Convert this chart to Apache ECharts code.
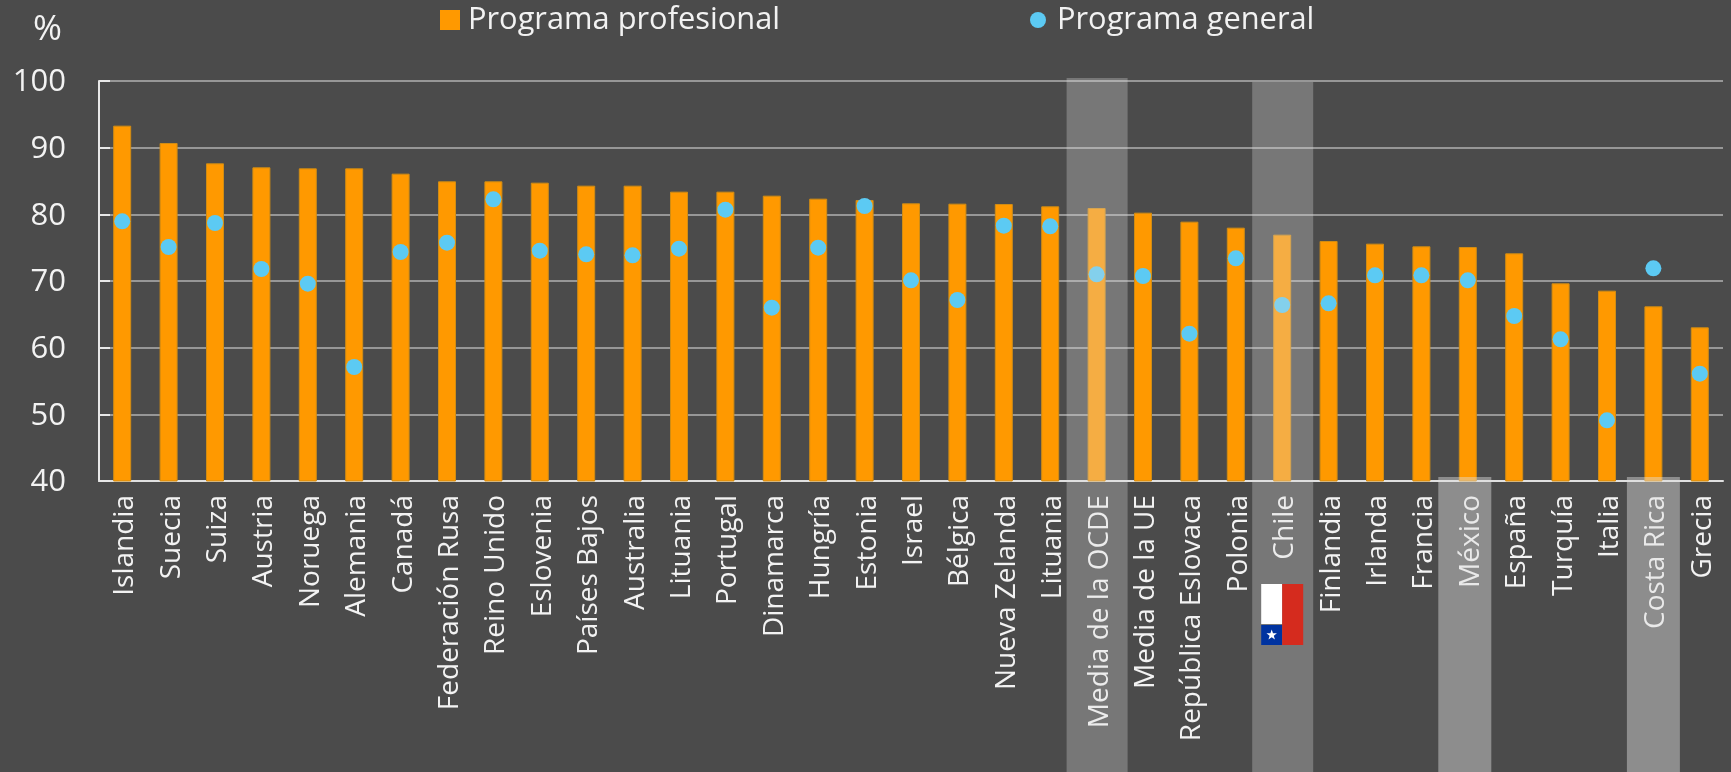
<!DOCTYPE html>
<html>
<head>
<meta charset="utf-8">
<style>
    html, body { margin: 0; padding: 0; background: #4b4b4b; }
    #chart { width: 1731px; height: 772px; }
</style>
<script src="https://cdn.jsdelivr.net/npm/echarts@6/dist/echarts.min.js"></script>
</head>
<body>
<div id="chart"></div>
<script>
const categories = ['Islandia', 'Suecia', 'Suiza', 'Austria', 'Noruega', 'Alemania', 'Canadá', 'Federación Rusa', 'Reino Unido', 'Eslovenia', 'Países Bajos', 'Australia', 'Lituania', 'Portugal', 'Dinamarca', 'Hungría', 'Estonia', 'Israel', 'Bélgica', 'Nueva Zelanda', 'Lituania', 'Media de la OCDE', 'Media de la UE', 'República Eslovaca', 'Polonia', 'Chile', 'Finlandia', 'Irlanda', 'Francia', 'México', 'España', 'Turquía', 'Italia', 'Costa Rica', 'Grecia'];
const profesional = [93.3, 90.7, 87.65, 87.05, 86.9, 86.9, 86.1, 84.95, 84.95, 84.75, 84.3, 84.3, 83.4, 83.4, 82.8, 82.35, 82.15, 81.65, 81.6, 81.55, 81.2, 80.95, 80.25, 78.9, 78, 76.95, 76, 75.6, 75.2, 75.1, 74.15, 69.65, 68.55, 66.2, 63.05];
const general = [78.95, 75.1, 78.7, 71.8, 69.6, 57.1, 74.35, 75.75, 82.25, 74.55, 74, 73.85, 74.85, 80.7, 66, 75, 81.25, 70.1, 67.15, 78.3, 78.2, 71, 70.75, 62.1, 73.4, 66.4, 66.65, 70.85, 70.85, 70.1, 64.75, 61.25, 49.1, 71.9, 56.1];
const yTicks = { min: 40, max: 100, interval: 10 };
const tallBands = [21, 25];    // Media de la OCDE, Chile
const shortBands = [29, 33];   // México, Costa Rica

const fontFamily = '"Open Sans", "Noto Sans", sans-serif';
const textColor = '#f2f2f2';

let chart = echarts.init(document.getElementById('chart'), null, { renderer: 'canvas' });

let option = {
    animation: false,
    backgroundColor: '#4b4b4b',
    textStyle: { fontFamily: fontFamily },
    title: {
        text: '%',
        left: 28,
        top: 8,
        textStyle: { color: textColor, fontSize: 35, fontWeight: 'normal', fontFamily: fontFamily }
    },
    legend: [
        {
            data: ['Programa profesional'],
            left: 440,
            top: 0,
            padding: [0, 0, 0, 0],
            itemWidth: 20,
            itemHeight: 20,
            icon: 'rect',
            itemStyle: { borderWidth: 0 },
            textStyle: { color: textColor, fontSize: 30.8, fontFamily: fontFamily, padding: [0, 0, 0, 3], lineHeight: 40 }
        },
        {
            data: ['Programa general'],
            left: 1030,
            top: 0,
            padding: [0, 0, 0, 0],
            itemWidth: 16,
            itemHeight: 16,
            icon: 'circle',
            itemStyle: { borderWidth: 0 },
            textStyle: { color: textColor, fontSize: 30.8, fontFamily: fontFamily, padding: [0, 0, 0, 6], lineHeight: 40 }
        }
    ],
    grid: { left: 99, right: 8, top: 81, bottom: 291 },
    xAxis: {
        type: 'category',
        data: categories,
        axisLine: { lineStyle: { color: '#e0e0e0', width: 2 } },
        axisTick: { inside: true, length: 10, lineStyle: { color: '#d0d0d0', width: 1 } },
        axisLabel: {
            interval: 0,
            rotate: 90,
            margin: 14,
            formatter: v => `{t|${v}}`,
            rich: {
                t: { color: textColor, fontSize: 28, fontFamily: fontFamily, padding: [6, 0, 0, 0] }
            }
        }
    },
    yAxis: {
        type: 'value',
        min: yTicks.min,
        max: yTicks.max,
        interval: yTicks.interval,
        axisLine: { show: true, lineStyle: { color: '#e8e8e8', width: 2 } },
        axisTick: { show: true, inside: true, length: 11, lineStyle: { color: '#e8e8e8', width: 2 } },
        axisLabel: {
            margin: 33,
            formatter: v => `{t|${v}}`,
            rich: {
                t: { color: textColor, fontSize: 31, fontFamily: fontFamily, padding: [3, 0, 0, 0] }
            }
        },
        splitLine: { lineStyle: { color: '#979797', width: 2 } }
    },
    series: [
        {
            name: 'Programa profesional',
            type: 'bar',
            data: profesional,
            barWidth: 18,
            itemStyle: { color: '#ff9900', borderColor: '#d08c14', borderWidth: 1 }
        },
        {
            name: 'Programa general',
            type: 'scatter',
            data: general,
            symbol: 'circle',
            symbolSize: 16,
            itemStyle: { color: '#5ccaf3', opacity: 1 },
            z: 5
        }
    ]
};
chart.setOption(option);

// bands sit over bars and labels, flag sits over the Chile band
function bandRect(index, width, top, fill, shift) {
    let cx = chart.convertToPixel({ xAxisIndex: 0 }, index) + (shift || 0);
    return {
        type: 'rect',
        z: 100,
        silent: true,
        shape: { x: cx - width / 2, y: top, width: width, height: 772 - top },
        style: { fill: fill }
    };
}

function flagParts(index) {
    let cx = chart.convertToPixel({ xAxisIndex: 0 }, index);
    let left = cx - 21, top = 584;
    let star = [];
    for (let i = 0; i < 10; i++) {
        let r = i % 2 ? 2.2 : 5.5;
        let a = -Math.PI / 2 + i * Math.PI / 5;
        star.push([left + 10.5 + r * Math.cos(a), top + 51 + r * Math.sin(a)]);
    }
    let part = (x, y, w, h, fill) => ({ type: 'rect', z: 110, silent: true, shape: { x: x, y: y, width: w, height: h }, style: { fill: fill } });
    return [
        part(left, top, 21, 40, '#ffffff'),
        part(left, top + 41, 21, 20, '#0033a0'),
        part(left + 21, top, 21, 61, '#d52b1e'),
        { type: 'polygon', z: 111, silent: true, shape: { points: star }, style: { fill: '#ffffff' } }
    ];
}

chart.setOption({
    graphic: {
        elements: [
            ...tallBands.map((i, n) => bandRect(i, 61, n === 0 ? 78 : 82, 'rgba(222,222,222,0.3)', 0.5)),
            ...shortBands.map((i, n) => bandRect(i, 53, 477, 'rgba(222,222,222,0.45)', n === 0 ? -3 : 0)),
            ...flagParts(25)
        ]
    }
});

window.addEventListener('resize', () => {
    chart.resize();
});
</script>
</body>
</html>
